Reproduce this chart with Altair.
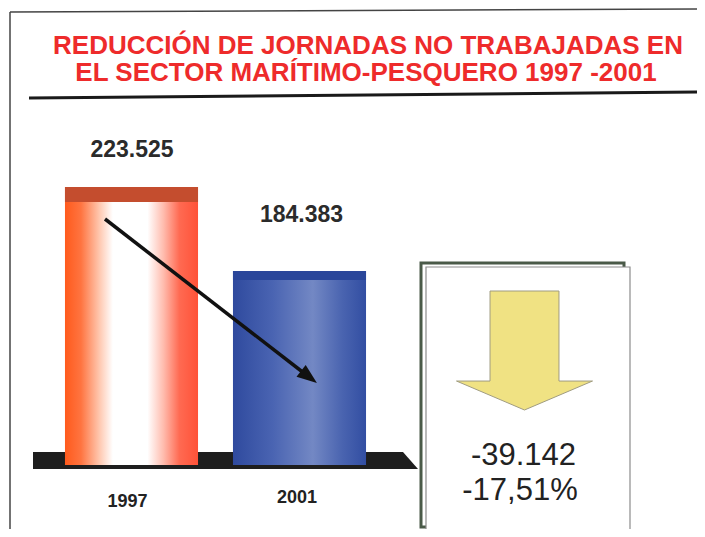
import altair as alt
import pandas as pd

# ---------------- data ----------------
years = ["1997", "2001"]
jornadas = [223525, 184383]
title_lines = ["REDUCCIÓN DE JORNADAS NO TRABAJADAS EN",
               "EL SECTOR MARÍTIMO-PESQUERO 1997 -2001"]


def es_int(n):
    return f"{n:,}".replace(",", ".")


diff = jornadas[1] - jornadas[0]
pct = diff / jornadas[0] * 100
diff_label = ("-" if diff < 0 else "") + es_int(abs(diff))
pct_label = f"{pct:.2f}".replace(".", ",") + "%"

df = pd.DataFrame({"year": years, "value": jornadas,
                   "label": [es_int(v) for v in jornadas]})
one = pd.DataFrame({"k": [0]})

# --------------- scales ---------------
Y_DOMAIN = [64159, 306936]
BASE = 93982
FONT = "Liberation Sans"

x_enc = alt.X("year:N", axis=None,
              scale=alt.Scale(domain=years, range=[39.5, 375.5],
                              paddingInner=0.208, paddingOuter=0.104))
y_enc = alt.Y("value:Q", axis=None,
              scale=alt.Scale(domain=Y_DOMAIN, nice=False, zero=False))

grad_red = {"gradient": "linear", "x1": 0, "x2": 1, "y1": 0, "y2": 0,
            "stops": [{"offset": 0.0, "color": "#ff5a1c"},
                      {"offset": 0.12, "color": "#ff7440"},
                      {"offset": 0.26, "color": "#ffc8b0"},
                      {"offset": 0.36, "color": "#ffffff"},
                      {"offset": 0.62, "color": "#ffffff"},
                      {"offset": 0.74, "color": "#ffbcae"},
                      {"offset": 0.86, "color": "#ff6a52"},
                      {"offset": 1.0, "color": "#ff5238"}]}
grad_blue = {"gradient": "linear", "x1": 0, "x2": 1, "y1": 0, "y2": 0,
             "stops": [{"offset": 0.0, "color": "#2f4a9e"},
                       {"offset": 0.3, "color": "#4a64b2"},
                       {"offset": 0.6, "color": "#7388c4"},
                       {"offset": 0.82, "color": "#4a64b0"},
                       {"offset": 1.0, "color": "#324ea2"}]}

base = alt.Chart(df)
single = alt.Chart(one)


def fixed_text(txt, x, y, size, color, weight="normal"):
    return single.mark_text(font=FONT, fontSize=size, fontWeight=weight,
                            color=color, align="center",
                            baseline="alphabetic").encode(
        x=alt.value(x), y=alt.value(y), text=alt.value(txt))


def rule(x, y, x2, y2, w, color):
    return single.mark_rule(strokeWidth=w, color=color).encode(
        x=alt.value(x), y=alt.value(y), x2=alt.value(x2), y2=alt.value(y2))


# frame + title
frame_left = rule(2, 4, 2, 540, 1.5, "#444444")
frame_top = rule(2, 4, 700, 1, 1.5, "#444444")
title1 = fixed_text(title_lines[0], 360, 45.5, 26, "#ee2b2b", "bold")
title2 = fixed_text(title_lines[1], 358, 72.5, 26, "#ee2b2b", "bold")
title_rule = rule(21, 90, 689, 84, 3, "#1a1a1a")

# floor slab
floor = single.mark_point(
    shape="M-1,-0.044 L0.922,-0.044 L1,0.044 L-1,0.044 Z",
    filled=True, size=148225, color="#1e1e1e", opacity=1).encode(
    x=alt.value(217.5), y=alt.value(452.5))

# bars
f97 = alt.datum.year == years[0]
f01 = alt.datum.year == years[1]
bar97 = base.transform_filter(f97).mark_bar(color=grad_red).encode(
    x=x_enc, y=y_enc, y2=alt.datum(BASE))
bar01 = base.transform_filter(f01).mark_bar(color=grad_blue).encode(
    x=x_enc, y=y_enc, y2=alt.datum(BASE))
top97 = base.transform_filter(f97).mark_bar(color="#c44d2e", y2Offset=15).encode(
    x=x_enc, y=y_enc, y2=alt.Y2("value"))
top01 = base.transform_filter(f01).mark_bar(color="#2a469a", y2Offset=9).encode(
    x=x_enc, y=y_enc, y2=alt.Y2("value"))

# value labels
lab97 = base.transform_filter(f97).mark_text(
    font=FONT, fontSize=23, fontWeight="bold", color="#2b2b2b",
    baseline="alphabetic", dy=-30, dx=0.5).encode(x=x_enc, y=y_enc, text="label:N")
lab01 = base.transform_filter(f01).mark_text(
    font=FONT, fontSize=23, fontWeight="bold", color="#2b2b2b",
    baseline="alphabetic", dy=-49, dx=2).encode(x=x_enc, y=y_enc, text="label:N")

# year labels
yr97 = base.transform_filter(f97).mark_text(
    font=FONT, fontSize=18, fontWeight="bold", color="#222222",
    baseline="alphabetic", dx=-4).encode(x=x_enc, y=alt.value(499), text="year:N")
yr01 = base.transform_filter(f01).mark_text(
    font=FONT, fontSize=18, fontWeight="bold", color="#222222",
    baseline="alphabetic", dx=-2.5).encode(x=x_enc, y=alt.value(495), text="year:N")

# trend arrow
arrow_line = rule(97, 211, 301, 369, 3.5, "#111111")
arrow_head = single.mark_point(
    shape="M1,0 L-1,-0.75 L-1,0.75 Z", filled=True, size=400, angle=37.7,
    color="#111111", opacity=1).encode(x=alt.value(301), y=alt.value(369))

# summary box
box_back = single.mark_rect(fill="white", stroke="#4a5a48", strokeWidth=3).encode(
    x=alt.value(413), x2=alt.value(616), y=alt.value(255), y2=alt.value(519))
box_front = single.mark_rect(fill="white", stroke="#8c8c8c", strokeWidth=1.2).encode(
    x=alt.value(418), x2=alt.value(622), y=alt.value(259), y2=alt.value(527))
down_arrow = single.mark_point(
    shape="M-0.507,-0.875 L0.507,-0.875 L0.507,0.449 L1,0.449 L0,0.875 L-1,0.449 L-0.507,0.449 Z",
    filled=True, size=18496, color="#f0e283", opacity=1,
    stroke="#a09c80", strokeWidth=1).encode(x=alt.value(516.5), y=alt.value(342.5))
txt_diff = fixed_text(diff_label, 515.5, 457, 31, "#222222")
txt_pct = fixed_text(pct_label, 512, 492, 31, "#222222")

chart = alt.layer(
    frame_left, frame_top, title1, title2, title_rule,
    floor, bar97, bar01, top97, top01, lab97, lab01, yr97, yr01,
    arrow_line, arrow_head,
    box_back, box_front, down_arrow, txt_diff, txt_pct,
).properties(
    width=689, height=521, padding=0,
    autosize=alt.AutoSizeParams(type="none"),
    background="white",
).configure_view(stroke=None)

chart.save("out.html", embed_options={"renderer": "svg", "actions": False})
